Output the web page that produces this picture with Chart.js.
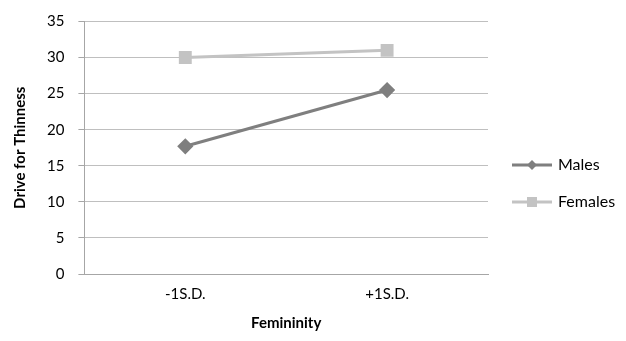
<!DOCTYPE html>
<html>
<head>
<meta charset="utf-8">
<script src="https://cdn.jsdelivr.net/npm/chart.js@4"></script>
<style>
  html, body { margin: 0; padding: 0; background: #fff; }
  #wrap { width: 626px; height: 341px; }
</style>
</head>
<body>
<div id="wrap"><canvas id="chart"></canvas></div>
<script>
// Data
const categories = ['-1S.D.', '+1S.D.'];
const males = [17.7, 25.5];
const females = [30, 31];
const yTicks = [0, 5, 10, 15, 20, 25, 30, 35];

const FONT = 'Lato, "Open Sans", sans-serif';
const maleColor = '#7f7f7f';
const femaleColor = '#c3c3c3';

// Excel-like legend on the right: line with marker, then label
const excelLegend = {
  id: 'excelLegend',
  afterDraw(chart) {
    const ctx = chart.ctx;
    const x0 = chart.chartArea.right + 24;
    const yMid = chart.height / 2 + 13;
    const gap = 37;
    chart.data.datasets.forEach((ds, i) => {
      const y = yMid - gap / 2 + i * gap;
      ctx.save();
      ctx.strokeStyle = ds.borderColor;
      ctx.lineWidth = 3;
      ctx.beginPath();
      ctx.moveTo(x0, y);
      ctx.lineTo(x0 + 40, y);
      ctx.stroke();
      ctx.fillStyle = ds.backgroundColor;
      ctx.translate(x0 + 20, y);
      if (ds.pointStyle === 'rectRot') {
        ctx.rotate(Math.PI / 4);
        ctx.fillRect(-3.5, -3.5, 7, 7);
      } else {
        ctx.fillRect(-5, -5, 10, 10);
      }
      ctx.restore();
      ctx.save();
      ctx.fillStyle = '#000';
      ctx.font = '16px ' + FONT;
      ctx.textBaseline = 'middle';
      ctx.fillText(ds.label, x0 + 46, y);
      ctx.restore();
    });
  }
};

new Chart(document.getElementById('chart'), {
  type: 'line',
  data: {
    labels: categories,
    datasets: [
      {
        label: 'Males',
        data: males,
        borderColor: maleColor,
        backgroundColor: maleColor,
        borderWidth: 3,
        pointStyle: 'rectRot',
        pointRadius: 6,
        pointHoverRadius: 6,
        tension: 0
      },
      {
        label: 'Females',
        data: females,
        borderColor: femaleColor,
        backgroundColor: femaleColor,
        borderWidth: 3,
        pointStyle: 'rect',
        pointRadius: 7,
        pointHoverRadius: 7,
        tension: 0
      }
    ]
  },
  options: {
    responsive: true,
    maintainAspectRatio: false,
    animation: false,
    layout: { padding: { top: 0, right: 138, bottom: 10, left: 11 } },
    plugins: {
      legend: { display: false },
      tooltip: { enabled: false }
    },
    scales: {
      x: {
        offset: true,
        grid: { display: false, drawTicks: false },
        border: { color: '#a6a6a6', width: 1 },
        ticks: { color: '#000', font: { family: FONT, size: 15, lineHeight: 1 }, padding: 13 },
        title: {
          display: true,
          text: 'Femininity',
          color: '#000',
          font: { family: FONT, size: 15, weight: 'bold', lineHeight: 1 },
          padding: { top: 1, bottom: 0 }
        }
      },
      y: {
        min: 0,
        max: 35,
        afterBuildTicks: axis => { axis.ticks = yTicks.map(v => ({ value: v })); },
        grid: { color: '#bfbfbf', tickLength: 6, tickColor: '#a6a6a6' },
        border: { color: '#a6a6a6', width: 1 },
        ticks: { color: '#000', font: { family: FONT, size: 15, lineHeight: 1 }, padding: 14 },
        title: {
          display: true,
          text: 'Drive for Thinness',
          color: '#000',
          font: { family: FONT, size: 15, weight: 'bold' },
          padding: { top: 0, bottom: 4 }
        }
      }
    }
  },
  plugins: [excelLegend]
});
</script>
</body>
</html>
